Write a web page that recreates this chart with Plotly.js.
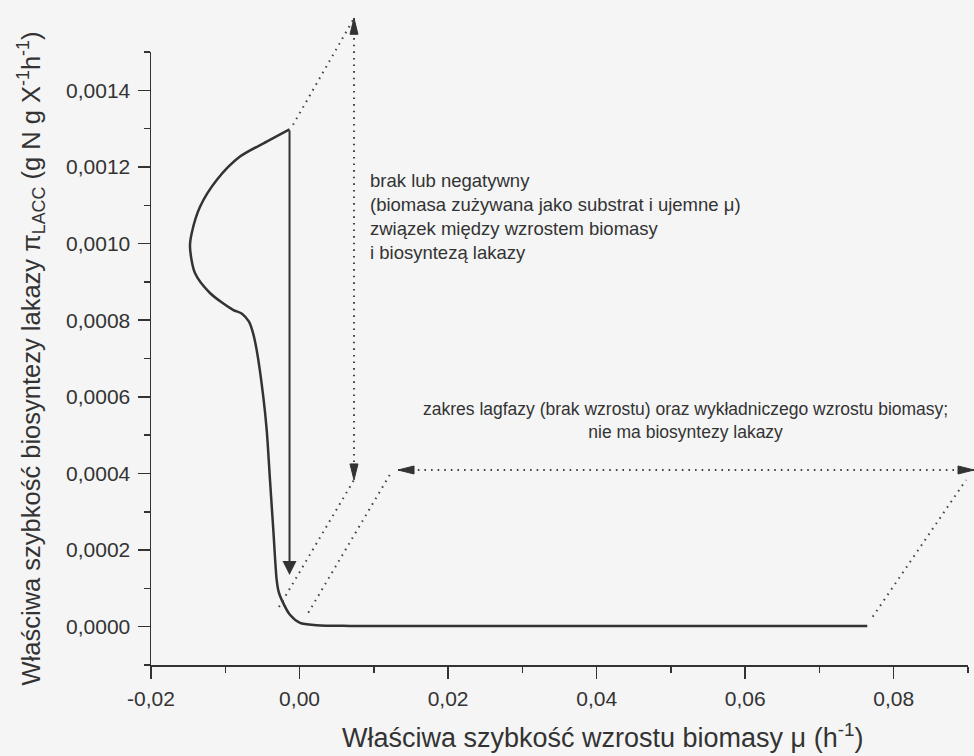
<!DOCTYPE html>
<html><head><meta charset="utf-8">
<script src="https://cdn.plot.ly/plotly-3.0.1.min.js"></script>
<style>html,body{margin:0;padding:0;background:#f5f5f5;}</style>
</head><body><div id="chart" style="width:974px;height:756px;"></div>
<script>
// ---- curve data (mu, pi_LACC) ----
const curveX = [-0.00135, -0.00442, -0.00802, -0.01115, -0.01340, -0.01452, -0.01475, -0.01408, -0.01206, -0.00896, -0.00775, -0.00681, -0.00627, -0.00577, -0.00488, -0.00442, -0.00398, -0.00353, -0.00308, -0.00281, -0.00240, -0.00129, 0.00006, 0.00231, 0.00679, 0.07644];
const curveY = [0.001298, 0.001266, 0.001227, 0.001166, 0.001096, 0.001027, 0.000992, 0.000923, 0.000871, 0.000827, 0.000817, 0.000796, 0.000767, 0.000722, 0.000600, 0.000513, 0.000383, 0.000252, 0.000122, 0.000091, 0.000070, 0.000031, 0.000010, 0.000004, 0.000002, 0.000002];

// ---- axes ----
const xRange = [-0.02, 0.09];
const yRange = [-0.0001, 0.0015];
const xTickVals = [-0.02, 0, 0.02, 0.04, 0.06, 0.08];
const xTickText = ['-0,02', '0,00', '0,02', '0,04', '0,06', '0,08'];
const yTickVals = [0, 0.0002, 0.0004, 0.0006, 0.0008, 0.0010, 0.0012, 0.0014];
const yTickText = ['0,0000', '0,0002', '0,0004', '0,0006', '0,0008', '0,0010', '0,0012', '0,0014'];
const xTitle = 'Właściwa szybkość wzrostu biomasy μ (h<sup>-1</sup>)';
const yTitle = 'Właściwa szybkość biosyntezy lakazy π<sub>LACC</sub> (g N g X<sup>-1</sup>h<sup>-1</sup>)';

// ---- guide arrows (data coordinates) ----
const solidArrowTail = [-0.00135, 0.001299];
const solidArrowTip = [-0.00135, 0.000135];
const dotFromX = [0.00733, -0.00088, -0.00277, 0.00118, 0.01326, 0.07717];
const dotFromY = [0.001588, 0.001310, 0.0000514, 0.0000365, 0.000409, 0.000026];
const dotToX = [0.00733, 0.00733, 0.00733, 0.01241, 0.09081, 0.08973];
const dotToY = [0.000383, 0.001588, 0.000383, 0.000405, 0.000409, 0.000383];
const headX = [0.00733, 0.00733, 0.01326, 0.09081];
const headY = [0.001588, 0.000383, 0.000409, 0.000409];
const headDir = ['up', 'down', 'left', 'right'];

const label1 = 'brak lub negatywny<br>(biomasa zużywana jako substrat i ujemne μ)<br>związek między wzrostem biomasy<br>i biosyntezą lakazy';
const label2 = 'zakres lagfazy (brak wzrostu) oraz wykładniczego wzrostu biomasy;<br>nie ma biosyntezy lakazy';

const W = 974, H = 756, M = {l: 151, r: 6, t: 52, b: 91};
const PW = W - M.l - M.r, PH = H - M.t - M.b;
const ink = '#333333';
const baseFont = 'Liberation Sans, Arial, sans-serif';

function px(v) { return (v - xRange[0]) / (xRange[1] - xRange[0]); }
function py(v) { return (v - yRange[0]) / (yRange[1] - yRange[0]); }

const shapes = [];
for (let i = 0; i < dotFromX.length; i++) {
  shapes.push({type: 'line', xref: 'paper', yref: 'paper',
    x0: px(dotFromX[i]), y0: py(dotFromY[i]), x1: px(dotToX[i]), y1: py(dotToY[i]),
    line: {color: '#444', width: 2, dash: '1.6px,5px'}});
}
const dirs = {up: [0, 1], down: [0, -1], left: [-1, 0], right: [1, 0]};
const HL = 16, HW = 4;
for (let i = 0; i < headX.length; i++) {
  const d = dirs[headDir[i]];
  const tx = px(headX[i]), ty = py(headY[i]);
  const bx = tx - d[0] * HL / PW, by = ty - d[1] * HL / PH;
  const ox = -d[1] * HW / PW, oy = d[0] * HW / PH;
  shapes.push({type: 'path', xref: 'paper', yref: 'paper',
    path: `M${tx},${ty} L${bx + ox},${by + oy} L${bx - ox},${by - oy} Z`,
    fillcolor: ink, line: {color: ink, width: 1}});
}

const data = [{
  x: curveX, y: curveY, type: 'scatter', mode: 'lines',
  line: {color: ink, width: 2.5, shape: 'spline', smoothing: 0.8},
  hoverinfo: 'skip'
}];

const axisCommon = {
  showline: true, linecolor: ink, linewidth: 1.5, mirror: false,
  showgrid: false, zeroline: false,
  ticks: 'outside', ticklen: 12, tickwidth: 1.5, tickcolor: ink,
  tickmode: 'array',
  tickfont: {family: baseFont, size: 21, color: ink}
};

const layout = {
  width: W, height: H, margin: M, autosize: false,
  paper_bgcolor: '#f5f5f5', plot_bgcolor: '#f5f5f5',
  showlegend: false,
  xaxis: Object.assign({}, axisCommon, {
    range: xRange, tickvals: xTickVals, ticktext: xTickText,
    ticklabelstandoff: 2,
    minor: {tickmode: 'linear', tick0: 0, dtick: 0.01, ticks: 'outside', ticklen: 6, tickwidth: 1.5, tickcolor: ink}
  }),
  yaxis: Object.assign({}, axisCommon, {
    range: yRange, tickvals: yTickVals, ticktext: yTickText,
    ticklabelstandoff: 3,
    minor: {tickmode: 'linear', tick0: 0, dtick: 0.0001, ticks: 'outside', ticklen: 6, tickwidth: 1.5, tickcolor: ink},
    title: {text: yTitle, standoff: 18, font: {family: baseFont, size: 25.5, color: ink}}
  }),
  shapes: shapes,
  annotations: [
    {x: solidArrowTip[0], y: solidArrowTip[1], ax: solidArrowTail[0], ay: solidArrowTail[1],
     xref: 'x', yref: 'y', axref: 'x', ayref: 'y', text: '', showarrow: true,
     arrowhead: 2, arrowsize: 1.4, arrowwidth: 2, arrowcolor: ink},
    {x: 0.00922, y: 0.001197, xref: 'x', yref: 'y', xanchor: 'left', yanchor: 'top', align: 'left',
     showarrow: false, text: label1, font: {family: baseFont, size: 18.5, color: ink}},
    {x: 0.05203, y: 0.0006, xref: 'x', yref: 'y', xanchor: 'center', yanchor: 'top', align: 'center',
     showarrow: false, text: label2, font: {family: baseFont, size: 17.5, color: ink}},
    {x: 0.553, y: -0.1158, xref: 'paper', yref: 'paper', xanchor: 'center', yanchor: 'middle',
     showarrow: false, text: xTitle, font: {family: baseFont, size: 27, color: ink}}
  ]
};

Plotly.newPlot('chart', data, layout, {staticPlot: true, displayModeBar: false});
</script>
</body></html>
